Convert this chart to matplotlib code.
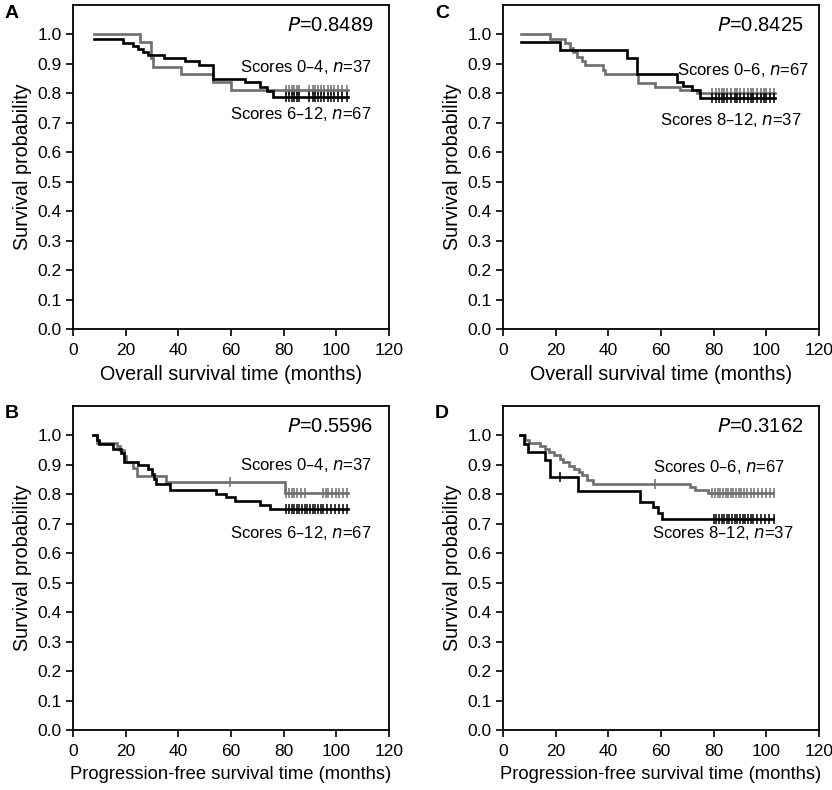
import numpy as np
import matplotlib
matplotlib.use("Agg")
import matplotlib.pyplot as plt

plt.rcParams['font.family'] = ['Liberation Sans', 'DejaVu Sans']

BLACK = '#000000'
GRAY = '#6e6e6e'

# ---------------- data ----------------
# Panel A: overall survival
A_black_t = [8, 19, 22.8, 24.6, 26.5, 28.3, 34.5, 42.4, 48, 53.2, 65.3, 71, 73.5, 76]
A_black_s = [0.985, 0.97, 0.96, 0.95, 0.94, 0.93, 0.92, 0.91, 0.895, 0.85, 0.837, 0.823, 0.809, 0.786]
A_gray_t = [8, 25.3, 29.8, 30.5, 41, 53.2, 60]
A_gray_s = [1.0, 0.973, 0.92, 0.89, 0.865, 0.838, 0.81]
A_cens = [81, 82, 83, 84, 85, 86, 89.5, 91, 92, 93, 94, 95.5, 97, 98, 99, 100.5, 102, 104]

# Panel C: overall survival
C_black_t = [7, 21.7, 46.9, 50.7, 65.9, 68.5, 71.7, 74.8]
C_black_s = [0.973, 0.946, 0.919, 0.865, 0.84, 0.824, 0.81, 0.784]
C_gray_t = [7, 17.7, 23.4, 25.3, 26.4, 28, 30, 31, 38, 38.6, 51.4, 57.7, 67.1, 73.5]
C_gray_s = [1.0, 0.985, 0.97, 0.955, 0.94, 0.925, 0.91, 0.895, 0.88, 0.865, 0.835, 0.82, 0.81, 0.80]
C_cens = [79.5, 81, 82, 83, 84, 85, 86.5, 88, 89, 90, 91.5, 93, 94, 95, 96.5, 98, 99, 100, 101.5, 103]

# Panel B: progression-free survival
B_black_t = [7.7, 9, 10, 15.3, 18.3, 19.5, 24.7, 28.5, 30, 30.8, 31.6, 36.7, 54.4, 58.2, 61.5, 71, 74.8]
B_black_s = [1.0, 0.985, 0.97, 0.955, 0.94, 0.91, 0.9, 0.885, 0.87, 0.853, 0.835, 0.815, 0.80, 0.79, 0.778, 0.765, 0.752]
B_gray_t = [7.7, 9, 16.6, 18, 19.5, 20.3, 22.8, 24.3, 35.4, 80.5]
B_gray_s = [1.0, 0.975, 0.965, 0.95, 0.93, 0.91, 0.89, 0.862, 0.842, 0.803]
B_gray_cens = [59.5, 81, 82, 83, 84, 85, 86.5, 88, 95, 96, 97, 98.5, 100, 101, 102.5, 104]
B_black_cens = [81, 82, 83, 84, 85, 86, 87, 88, 89, 90, 91, 92, 93, 94, 95, 96.5, 98, 99.5, 101, 102.5, 104]

# Panel D: progression-free survival
D_black_t = [6.5, 8, 9.5, 16, 17.7, 28.5, 51.9, 57.1, 59, 60.3]
D_black_s = [1.0, 0.97, 0.945, 0.915, 0.86, 0.81, 0.775, 0.758, 0.738, 0.717]
D_black_cens = [21.5, 80, 81, 82, 83, 84, 85, 86, 87, 88, 89, 90, 91, 92, 93, 94, 95, 96.5, 98, 99.5, 101, 103]
D_gray_t = [6.5, 8.5, 10, 14, 16, 17.5, 19.5, 21.5, 22.8, 25, 27, 29, 30, 32, 34.3, 71, 73, 78]
D_gray_s = [1.0, 0.985, 0.975, 0.965, 0.955, 0.943, 0.932, 0.92, 0.909, 0.897, 0.886, 0.875, 0.865, 0.85, 0.835, 0.824, 0.815, 0.806]
D_gray_cens = [57.6, 79.5, 80.5, 81.5, 82.5, 83.5, 84.5, 85.5, 86.5, 87.5, 88.5, 89.5, 90.5, 91.5, 92.5, 94, 95.5, 97, 98.5, 100, 101.5, 103]

END_TOP_L = 104.5
END_TOP_R = 103.3
END_BOT_L = 104.6
END_BOT_R = 102.7

x_ticks = [0, 20, 40, 60, 80, 100, 120]
y_ticks = [0.0, 0.1, 0.2, 0.3, 0.4, 0.5, 0.6, 0.7, 0.8, 0.9, 1.0]

panels = {
    'A': dict(p='0.8489', xlabel='Overall survival time (months)', xfs=14.2,
              curves=[(A_gray_t, A_gray_s, A_cens, GRAY, END_TOP_L),
                      (A_black_t, A_black_s, A_cens, BLACK, END_TOP_L)],
              labels=[('Scores 0\u20134, ', '37', 0.946, 0.81),
                      ('Scores 6\u201312, ', '67', 0.946, 0.665)]),
    'C': dict(p='0.8425', xlabel='Overall survival time (months)', xfs=14.2,
              curves=[(C_gray_t, C_gray_s, C_cens, GRAY, END_TOP_R),
                      (C_black_t, C_black_s, C_cens, BLACK, END_TOP_R)],
              labels=[('Scores 0\u20136, ', '67', 0.97, 0.80),
                      ('Scores 8\u201312, ', '37', 0.945, 0.645)]),
    'B': dict(p='0.5596', xlabel='Progression-free survival time (months)', xfs=13.2,
              curves=[(B_gray_t, B_gray_s, B_gray_cens, GRAY, END_BOT_L),
                      (B_black_t, B_black_s, B_black_cens, BLACK, END_BOT_L)],
              labels=[('Scores 0\u20134, ', '37', 0.946, 0.818),
                      ('Scores 6\u201312, ', '67', 0.946, 0.608)]),
    'D': dict(p='0.3162', xlabel='Progression-free survival time (months)', xfs=13.2,
              curves=[(D_gray_t, D_gray_s, D_gray_cens, GRAY, END_BOT_R),
                      (D_black_t, D_black_s, D_black_cens, BLACK, END_BOT_R)],
              labels=[('Scores 0\u20136, ', '67', 0.892, 0.813),
                      ('Scores 8\u201312, ', '37', 0.918, 0.608)]),
}

W, H = 832, 790
fig = plt.figure(figsize=(W / 100, H / 100), dpi=100)

# axes boxes in pixels: (left, top, width, height)
boxes = {'A': (73, 5, 316, 324), 'C': (503, 5, 316, 324),
         'B': (73, 406, 316, 324), 'D': (503, 406, 316, 324)}


def surv_at(times, surv, t):
    i = np.searchsorted(np.asarray(times), t, side='right') - 1
    return np.asarray(surv)[max(i, 0)]


for name, cfg in panels.items():
    l, t, w, h = boxes[name]
    ax = fig.add_axes([l / W, (H - t - h) / H, w / W, h / H])
    for times, surv, cens, col, end in cfg['curves']:
        tt = list(times) + [end]
        ss = list(surv) + [surv[-1]]
        ax.step(tt, ss, where='post', color=col, lw=1.9, solid_joinstyle='miter')
        cy = [surv_at(times, surv, c) for c in cens]
        ax.plot(cens, cy, ls='none', marker='|', ms=7.5, mew=1.1, color=col)
    ax.set_xlim(0, 120)
    ax.set_ylim(0, 1.1)
    ax.set_xticks(x_ticks)
    ax.set_yticks(y_ticks)
    ax.set_yticklabels([f'{v:.1f}' for v in y_ticks])
    ax.tick_params(direction='out', length=5, width=1.2, labelsize=12.5, pad=3)
    ax.tick_params(axis='x', pad=5)
    for sp in ax.spines.values():
        sp.set_linewidth(1.3)
    ax.set_xlabel(cfg['xlabel'], fontsize=cfg['xfs'], labelpad=5)
    ax.set_ylabel('Survival probability', fontsize=14.2, labelpad=4)
    ax.text(0.95, 0.938, r'$\it{P}$' + '=' + cfg['p'], transform=ax.transAxes,
            ha='right', va='center', fontsize=14.5)
    for pre, n, x, y in cfg['labels']:
        ax.text(x, y, pre + r'$\it{n}$' + '=' + n, transform=ax.transAxes,
                ha='right', va='center', fontsize=12)
    fig.text((l - 68) / W, 1 - (t + 8) / H, name, fontsize=14, fontweight='bold',
             ha='left', va='center')

fig.savefig('out.png', dpi=100)
